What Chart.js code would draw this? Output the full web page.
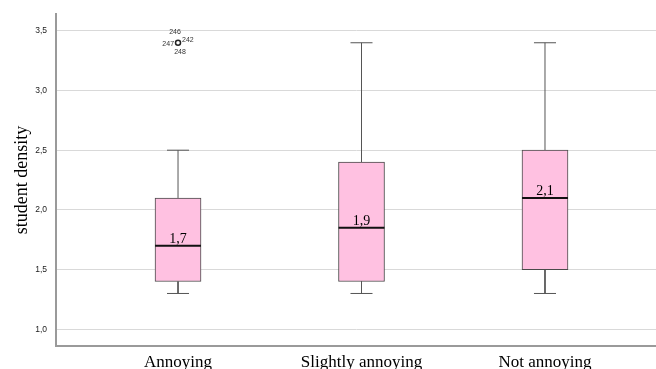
<!DOCTYPE html>
<html>
<head>
<meta charset="utf-8">
<script src="https://cdn.jsdelivr.net/npm/chart.js@4"></script>
<style>
  html, body { margin: 0; padding: 0; background: #fff; }
  #wrap { width: 656px; height: 369px; }
  canvas { display: block; }
</style>
</head>
<body>
<div id="wrap"><canvas id="box-chart" width="656" height="369"></canvas></div>
<script>
// Box plot values
const categories = ['Annoying', 'Slightly annoying', 'Not annoying'];
const whiskerLow = [1.3, 1.3, 1.3];
const quartile1 = [1.4, 1.4, 1.5];
const medians = [1.7, 1.85, 2.1];
const quartile3 = [2.1, 2.4, 2.5];
const whiskerHigh = [2.5, 3.4, 3.4];
const medianLabels = ['1,7', '1,9', '2,1'];
const outlierCategory = [0];
const outlierValues = [3.4];
const outlierIds = ['246', '247', '242', '248'];
const yTicks = [1.0, 1.5, 2.0, 2.5, 3.0, 3.5];

const CAP = 0.06;   // half width of whisker caps (x units)
const HALF = 0.125; // half width of a box (x units)

const whiskerPoints = [];
const medianPoints = [];
categories.forEach((_, i) => {
    whiskerPoints.push(
        {x: i, y: quartile3[i]}, {x: i, y: whiskerHigh[i]}, {x: i, y: null},
        {x: i, y: quartile1[i]}, {x: i, y: whiskerLow[i]}, {x: i, y: null},
        {x: i - CAP, y: whiskerHigh[i]}, {x: i + CAP, y: whiskerHigh[i]}, {x: i, y: null},
        {x: i - CAP, y: whiskerLow[i]}, {x: i + CAP, y: whiskerLow[i]}, {x: i, y: null}
    );
    medianPoints.push({x: i - HALF, y: medians[i]}, {x: i + HALF, y: medians[i]}, {x: i, y: null});
});

// labels for medians and outlier case numbers
const labelPlugin = {
    id: 'boxLabels',
    afterDatasetsDraw(chart) {
        const {ctx, scales: {x, y}} = chart;
        ctx.save();
        ctx.fillStyle = '#000';
        ctx.font = '14px "Liberation Serif", "Times New Roman", serif';
        ctx.textAlign = 'center';
        ctx.textBaseline = 'alphabetic';
        medianLabels.forEach((t, i) => {
            ctx.fillText(t, x.getPixelForValue(i), y.getPixelForValue(medians[i]) - 3);
        });

        const spots = [
            {dx: -3, dy: -11, align: 'center'},
            {dx: -4, dy: 1, align: 'right'},
            {dx: 4, dy: -3, align: 'left'},
            {dx: 2, dy: 9, align: 'center'}
        ];
        ctx.font = '7px "Liberation Sans", Arial, sans-serif';
        ctx.fillStyle = '#333';
        ctx.textBaseline = 'middle';
        const px = x.getPixelForValue(outlierCategory[0]);
        const py = y.getPixelForValue(outlierValues[0]);
        outlierIds.forEach((id, k) => {
            ctx.textAlign = spots[k].align;
            ctx.fillText(id, px + spots[k].dx, py + spots[k].dy);
        });
        ctx.restore();
    }
};

const ctx = document.getElementById('box-chart').getContext('2d');
const chart = new Chart(ctx, {
    type: 'bar',
    data: {
        datasets: [{
            type: 'bar',
            data: categories.map((_, i) => ({x: i, y: [quartile1[i], quartile3[i]]})),
            backgroundColor: 'rgb(255, 193, 225)',
            borderColor: '#4a4a4a',
            borderWidth: 1,
            borderSkipped: false,
            barThickness: 46,
            order: 3
        }, {
            type: 'line',
            data: whiskerPoints,
            borderColor: '#555',
            borderWidth: 1,
            pointRadius: 0,
            pointHoverRadius: 0,
            spanGaps: false,
            order: 4
        }, {
            type: 'line',
            data: medianPoints,
            borderColor: '#111',
            borderWidth: 2,
            pointRadius: 0,
            pointHoverRadius: 0,
            spanGaps: false,
            order: 2
        }, {
            type: 'scatter',
            data: outlierCategory.map((c, k) => ({x: c, y: outlierValues[k]})),
            pointRadius: 2.5,
            pointHoverRadius: 2.5,
            pointBorderWidth: 1.5,
            borderColor: '#222',
            backgroundColor: '#fff',
            order: 1
        }]
    },
    options: {
        responsive: false,
        animation: false,
        devicePixelRatio: 1,
        layout: {
            autoPadding: false,
            padding: {top: 13, right: 0, bottom: 0, left: 0}
        },
        plugins: {
            legend: {display: false},
            tooltip: {enabled: false}
        },
        scales: {
            x: {
                type: 'linear',
                min: -0.665,
                max: 2.605,
                offset: false,
                afterBuildTicks: (axis) => {
                    axis.ticks = categories.map((_, i) => ({value: i}));
                },
                afterFit: (axis) => {
                    axis.height = 23;
                    axis.paddingLeft = 0;
                    axis.paddingRight = 0;
                },
                grid: {display: false, drawTicks: false, offset: false},
                border: {color: '#9a9a9a', width: 2},
                ticks: {
                    autoSkip: false,
                    maxRotation: 0,
                    padding: 6,
                    color: '#000',
                    font: {family: '"Liberation Serif", "Times New Roman", serif', size: 17},
                    callback: (v) => categories[v]
                }
            },
            y: {
                min: 0.86,
                max: 3.64,
                beginAtZero: false,
                afterBuildTicks: (axis) => {
                    axis.ticks = yTicks.map(v => ({value: v}));
                },
                afterFit: (axis) => { axis.width = 56; },
                grid: {color: '#d9d9d9', lineWidth: 1, drawTicks: false},
                border: {color: '#9a9a9a', width: 2},
                ticks: {
                    padding: 9,
                    color: '#222',
                    font: {family: '"Liberation Sans", Arial, sans-serif', size: 8.5},
                    callback: (v) => v.toFixed(1).replace('.', ',')
                },
                title: {
                    display: true,
                    text: 'student density',
                    color: '#000',
                    padding: {top: 11, bottom: 0},
                    font: {family: '"Liberation Serif", "Times New Roman", serif', size: 18}
                }
            }
        }
    },
    plugins: [labelPlugin]
});
</script>
</body>
</html>
